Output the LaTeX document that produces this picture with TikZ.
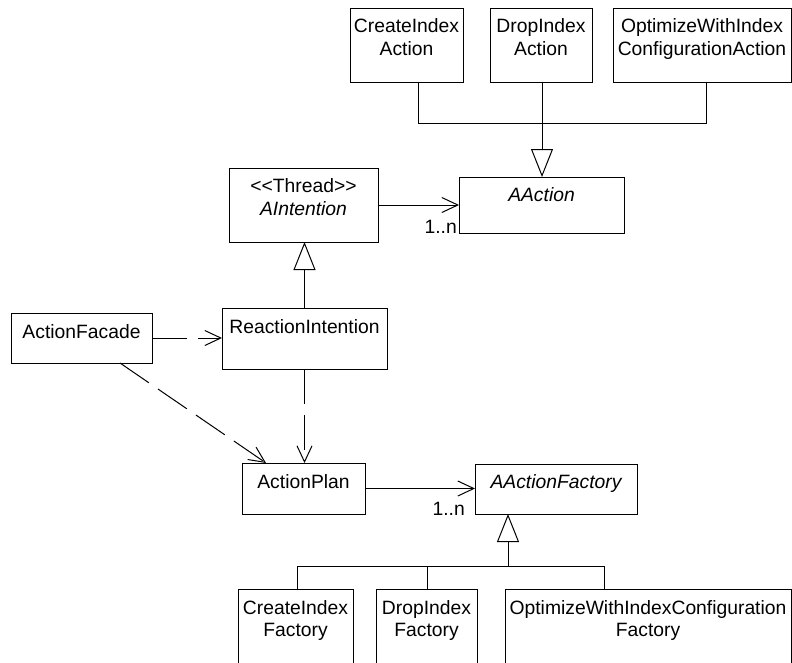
\documentclass[tikz,border=0pt]{standalone}
\usepackage{fontspec}
\setmainfont{Liberation Sans}
\usetikzlibrary{arrows.meta}
\begin{document}
\begin{tikzpicture}[x=1pt,y=-1pt,
  cls/.style={draw, line width=1pt, rectangle, inner sep=0pt, outer sep=0pt},
  lbl/.style={inner sep=0pt, anchor=base, font=\fontsize{19.3}{23}\selectfont},
  conn/.style={line width=1pt},
  assoc/.style={conn, -{Straight Barb[length=16pt,width=15pt,line width=1pt]}},
  dep/.style={assoc, dash pattern=on 35pt off 11pt},
  gen/.style={conn, -{Triangle[open,length=28pt,width=22pt,line width=1pt,fill=white]}}
]
\useasboundingbox (0,0) rectangle (792,662);
\clip (0,0) rectangle (792,662);

% class boxes
\node[cls, minimum width=113pt, minimum height=74pt] (cia) at (406.5,45) {};
\node[cls, minimum width=102pt, minimum height=74pt] (dia) at (541,45) {};
\node[cls, minimum width=178pt, minimum height=74pt] (oia) at (702,45) {};
\node[cls, minimum width=165pt, minimum height=56pt] (aact) at (541.5,205) {};
\node[cls, minimum width=149pt, minimum height=74pt] (aint) at (303.5,205) {};
\node[cls, minimum width=165pt, minimum height=61pt] (rint) at (304.5,338.5) {};
\node[cls, minimum width=141pt, minimum height=50pt] (afac) at (81.5,338) {};
\node[cls, minimum width=123pt, minimum height=51pt] (aplan) at (303.5,488.5) {};
\node[cls, minimum width=162pt, minimum height=50pt] (afact) at (556,489) {};
\node[cls, minimum width=115pt, minimum height=111pt] (cif) at (295.5,644.5) {};
\node[cls, minimum width=101pt, minimum height=111pt] (dif) at (426.5,644.5) {};
\node[cls, minimum width=286pt, minimum height=111pt] (oif) at (648,644.5) {};

% labels
\node[lbl] (ciaA) at ([yshift=-24.5pt]cia.north) {CreateIndex};
\node[lbl] (ciaB) at ([yshift=-47.5pt]cia.north) {Action};
\node[lbl] (diaA) at ([yshift=-24.5pt]dia.north) {DropIndex};
\node[lbl] (diaB) at ([yshift=-47.5pt]dia.north) {Action};
\node[lbl] (oiaA) at ([yshift=-24.5pt]oia.north) {OptimizeWithIndex};
\node[lbl] (oiaB) at ([yshift=-47.5pt]oia.north) {ConfigurationAction};
\node[lbl] (aactA) at ([yshift=-24.5pt]aact.north) {\itshape AAction};
\node[lbl] (aintA) at ([yshift=-24pt]aint.north) {<{}<Thread>{}>};
\node[lbl] (aintB) at ([yshift=-47.5pt]aint.north) {\itshape AIntention};
\node[lbl] (rintA) at ([yshift=-25pt]rint.north) {ReactionIntention};
\node[lbl] (afacA) at ([yshift=-25.5pt]afac.north) {ActionFacade};
\node[lbl] (aplanA) at ([yshift=-25pt]aplan.north) {ActionPlan};
\node[lbl] (afactA) at ([yshift=-24.5pt]afact.north) {\itshape AActionFactory};
\node[lbl] (cifA) at ([yshift=-25pt]cif.north) {CreateIndex};
\node[lbl] (cifB) at ([yshift=-47.5pt]cif.north) {Factory};
\node[lbl] (difA) at ([yshift=-25pt]dif.north) {DropIndex};
\node[lbl] (difB) at ([yshift=-47.5pt]dif.north) {Factory};
\node[lbl] (oifA) at ([yshift=-25pt]oif.north) {OptimizeWithIndexConfiguration};
\node[lbl] (oifB) at ([yshift=-47.5pt]oif.north) {Factory};

% top generalization
\coordinate (tl) at (418,123);
\coordinate (tm) at (542,123);
\coordinate (tr) at (706,123);
\draw[conn] (tl |- cia.south) -- (tl) -- (tr) -- (tr |- oia.south);
\draw[conn] (tm |- dia.south) -- (tm);
\draw[gen] (tm) -- (tm |- aact.north);

% AIntention -> AAction
\draw[assoc] (aint.east) -- (aint.east -| aact.west);
\node[lbl, anchor=base east] (m1) at ([xshift=-2pt]aact.south west) {1..n};

% ReactionIntention -> AIntention
\draw[gen] (rint.north) -- (rint.north |- aint.south);

% dependencies
\draw[dep] (afac.east) -- (afac.east -| rint.west);
\draw[dep] (rint.south) -- (rint.south |- aplan.north);
\draw[dep] ([xshift=109pt]afac.south west) -- ([xshift=24pt]aplan.north west);

% ActionPlan -> AActionFactory
\draw[assoc] (aplan.east) -- (aplan.east -| afact.west);
\node[lbl, anchor=base east] (m2) at ([xshift=-10pt,yshift=-1pt]afact.south west) {1..n};

% bottom generalization
\coordinate (bl) at (297,566);
\coordinate (bd) at (427,566);
\coordinate (bm) at (508,566);
\coordinate (br) at (604,566);
\draw[conn] (bl |- cif.north) -- (bl) -- (br) -- (br |- oif.north);
\draw[conn] (bd |- dif.north) -- (bd);
\draw[gen] (bm) -- (bm |- afact.south);
\end{tikzpicture}
\end{document}
